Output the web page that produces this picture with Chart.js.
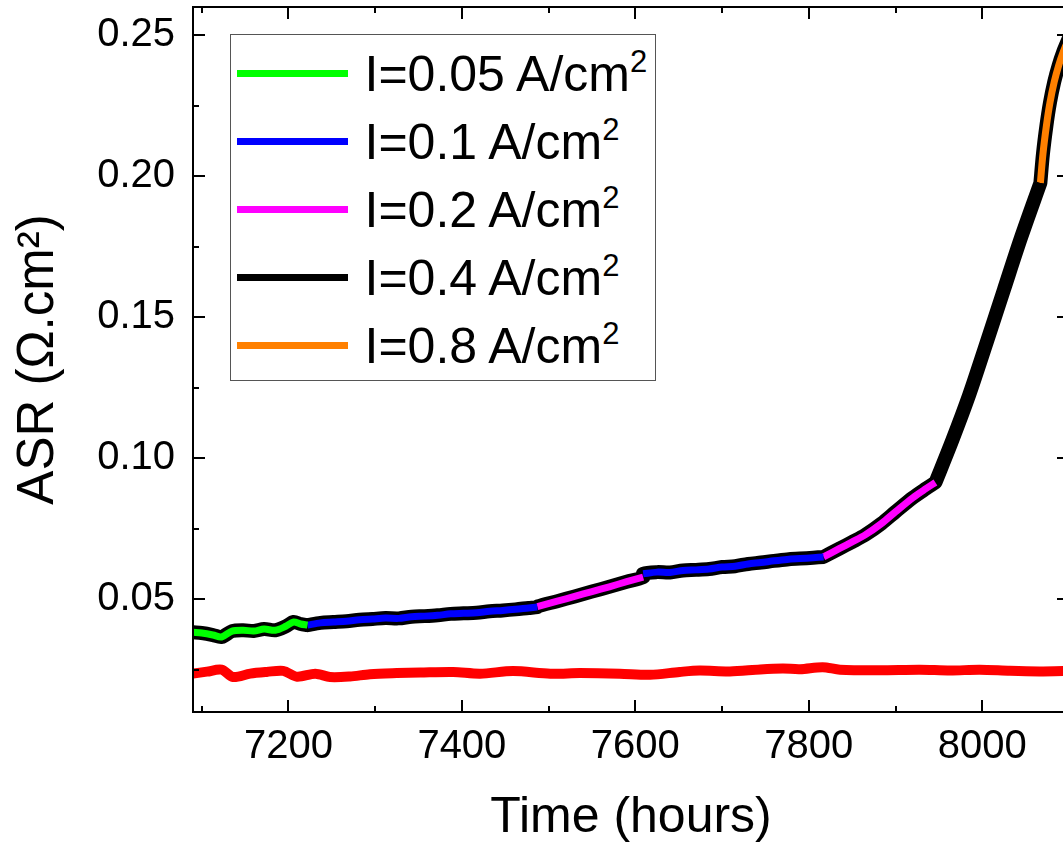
<!DOCTYPE html>
<html>
<head>
<meta charset="utf-8">
<script src="https://cdn.jsdelivr.net/npm/chart.js@4.4.0/dist/chart.umd.min.js"></script>
<style>
  html, body { margin: 0; padding: 0; background: #fff; overflow: hidden; }
  #wrap { position: relative; width: 1075px; height: 843px; }
  #chart { display: block; }
  #legend { position: absolute; left: 230px; top: 34px; width: 424px; height: 345px; border: 1.5px solid #555;
            background: #fff; font-family: "Liberation Sans", Arial, sans-serif; font-size: 50px; color: #000; }
  .row { position: absolute; left: 0; height: 48px; line-height: 48px; white-space: nowrap; }
  .swatch { position: absolute; left: 5.5px; top: 20.5px; width: 111px; height: 7px; }
  .txt { position: absolute; left: 133.5px; top: 0; }
  .txt sup { font-size: 31px; vertical-align: baseline; position: relative; top: -19px; }
</style>
</head>
<body>
<div id="wrap">
  <canvas id="chart" width="1075" height="843"></canvas>
  <div id="legend"></div>
</div>
<script>
// tick labels
const xTicks = [7200, 7400, 7600, 7800, 8000];
const yTicks = [0.05, 0.10, 0.15, 0.20, 0.25];

// I = 0.05 A/cm2
const greenHours = [7090, 7100, 7113, 7123, 7135, 7148, 7160, 7172, 7185, 7197, 7206, 7214, 7222];
const greenAsr   = [0.0383, 0.0380, 0.0373, 0.0366, 0.0387, 0.0390, 0.0387, 0.0394, 0.0390, 0.0404, 0.0419, 0.0412, 0.0408];

// I = 0.1 A/cm2 (two periods)
const blueHours1 = [7222, 7237, 7252, 7267, 7282, 7297, 7312, 7327, 7342, 7357, 7372, 7387, 7402, 7417, 7432, 7447, 7462, 7477, 7487];
const blueAsr1   = [0.0408, 0.0416, 0.0419, 0.0422, 0.0427, 0.0430, 0.0433, 0.0432, 0.0438, 0.0440, 0.0443, 0.0448, 0.0450, 0.0452, 0.0457, 0.0460, 0.0464, 0.0469, 0.0472];
const blueHours2 = [7609, 7625, 7640, 7655, 7670, 7685, 7700, 7715, 7730, 7745, 7760, 7775, 7790, 7805, 7817];
const blueAsr2   = [0.0590, 0.0596, 0.0595, 0.0602, 0.0604, 0.0607, 0.0614, 0.0617, 0.0625, 0.0630, 0.0636, 0.0641, 0.0644, 0.0647, 0.0650];

// I = 0.2 A/cm2 (two periods)
const magHours1 = [7487, 7510, 7530, 7550, 7570, 7590, 7609];
const magAsr1   = [0.0474, 0.0493, 0.0510, 0.0527, 0.0544, 0.0562, 0.0578];
const magHours2 = [7817, 7835, 7850, 7865, 7884, 7900, 7920, 7935, 7946];
const magAsr2   = [0.0650, 0.0679, 0.0703, 0.0728, 0.0769, 0.0810, 0.0860, 0.0892, 0.0914];

// I = 0.4 A/cm2
const blackHours = [7946, 7965, 7985, 8005, 8025, 8045, 8067];
const blackAsr   = [0.0914, 0.1060, 0.1225, 0.1410, 0.1598, 0.1785, 0.1976];

// I = 0.8 A/cm2
const orangeHours = [8067, 8070, 8074, 8078, 8083, 8088, 8093, 8100];
const orangeAsr   = [0.1976, 0.2080, 0.2180, 0.2260, 0.2335, 0.2392, 0.2438, 0.2490];

// red reference curve (no legend entry)
const redHours = [7090, 7106, 7123, 7136, 7156, 7175, 7194, 7210, 7231, 7248, 7271, 7294, 7325, 7352, 7390, 7421, 7459, 7502,
                  7536, 7582, 7617, 7651, 7674, 7709, 7744, 7770, 7790, 7816, 7836, 7882, 7928, 7963, 7997, 8032, 8066, 8093, 8100];
const redAsr   = [0.0236, 0.0243, 0.0250, 0.0224, 0.0236, 0.0242, 0.0246, 0.0225, 0.0236, 0.0224, 0.0226, 0.0234, 0.0238, 0.0240,
                  0.0242, 0.0236, 0.0245, 0.0236, 0.0238, 0.0236, 0.0232, 0.0242, 0.0247, 0.0244, 0.0251, 0.0254, 0.0252, 0.0259,
                  0.0250, 0.0248, 0.0250, 0.0247, 0.0250, 0.0246, 0.0244, 0.0245, 0.0245];

const legendLabels = ['I=0.05 A/cm', 'I=0.1 A/cm', 'I=0.2 A/cm', 'I=0.4 A/cm', 'I=0.8 A/cm'];
const legendColors = ['#00ff00', '#0000ff', '#ff00ff', '#000000', '#ff8000'];

const FONT = '"Liberation Sans", Arial, sans-serif';

const pts = (h, a) => h.map((t, i) => ({ x: t, y: a[i] }));

const segment = (h, a, color) => ({
  data: pts(h, a),
  borderColor: color,
  borderWidth: 7,
  tension: 0.3,
  pointRadius: 0,
  borderCapStyle: 'butt',
  borderJoinStyle: 'round',
  clip: 0
});

const outline = [].concat(
  pts(greenHours, greenAsr), pts(blueHours1, blueAsr1), pts(magHours1, magAsr1),
  pts(blueHours2, blueAsr2), pts(magHours2, magAsr2), pts(blackHours, blackAsr), pts(orangeHours, orangeAsr)
);

// chart area placed by hand, so drop the label overhang padding
const fixBox = (s, key, size) => {
  s[key] = size;
  s.paddingTop = 0; s.paddingBottom = 0; s.paddingLeft = 0; s.paddingRight = 0;
};

// inward ticks and frame on all four sides
const framePlugin = {
  id: 'frame',
  afterDatasetsDraw(chart) {
    const { ctx, chartArea: a, scales: { x, y } } = chart;
    ctx.save();
    ctx.strokeStyle = '#000';
    ctx.lineWidth = 2;
    ctx.strokeRect(a.left, a.top, a.right - a.left, a.bottom - a.top);
    ctx.beginPath();
    for (let v = 7100; v <= x.max; v += 100) {
      const px = Math.round(x.getPixelForValue(v));
      const len = v % 200 === 0 ? 12 : 6;
      ctx.moveTo(px, a.bottom); ctx.lineTo(px, a.bottom - len);
      ctx.moveTo(px, a.top); ctx.lineTo(px, a.top + len);
    }
    for (let k = 1; k * 0.025 <= y.max + 1e-9; k++) {
      const v = k * 0.025;
      if (v < y.min) continue;
      const py = Math.round(y.getPixelForValue(v));
      const len = k % 2 === 0 ? 12 : 6;
      ctx.moveTo(a.left, py); ctx.lineTo(a.left + len, py);
      ctx.moveTo(a.right, py); ctx.lineTo(a.right - len, py);
    }
    ctx.stroke();
    ctx.restore();
  }
};

new Chart(document.getElementById('chart'), {
  type: 'line',
  data: {
    datasets: [
      segment(greenHours, greenAsr, legendColors[0]),
      segment(blueHours1, blueAsr1, legendColors[1]),
      segment(blueHours2, blueAsr2, legendColors[1]),
      segment(magHours1, magAsr1, legendColors[2]),
      segment(magHours2, magAsr2, legendColors[2]),
      segment(blackHours, blackAsr, legendColors[3]),
      segment(orangeHours, orangeAsr, legendColors[4]),
      {
        data: outline,
        borderColor: '#000',
        borderWidth: 14,
        tension: 0.3,
        pointRadius: 0,
        borderJoinStyle: 'round',
        clip: 0
      },
      {
        data: pts(redHours, redAsr),
        borderColor: '#ff0000',
        borderWidth: 10,
        tension: 0.3,
        pointRadius: 0,
        borderJoinStyle: 'round',
        clip: 0
      }
    ]
  },
  options: {
    responsive: false,
    animation: false,
    devicePixelRatio: 1,
    layout: { padding: { top: 7, right: 6, left: 0, bottom: 0 } },
    plugins: { legend: { display: false }, tooltip: { enabled: false } },
    scales: {
      x: {
        type: 'linear',
        min: 7090,
        max: 8100,
        afterBuildTicks: s => { s.ticks = xTicks.map(v => ({ value: v })); },
        afterFit: s => fixBox(s, 'height', 131),
        grid: { display: false, drawTicks: false },
        border: { display: false },
        ticks: { color: '#000', padding: 11, maxRotation: 0, autoSkip: false, callback: v => String(v),
                 font: { family: FONT, size: 40 } },
        title: { display: true, text: 'Time (hours)', color: '#000', padding: { top: 0, bottom: 0 },
                 font: { family: FONT, size: 50, lineHeight: 1 } }
      },
      y: {
        type: 'linear',
        min: 0.01,
        max: 0.26,
        afterBuildTicks: s => { s.ticks = yTicks.map(v => ({ value: v })); },
        afterFit: s => fixBox(s, 'width', 193),
        grid: { display: false, drawTicks: false },
        border: { display: false },
        ticks: { color: '#000', padding: 18, callback: v => v.toFixed(2), font: { family: FONT, size: 40 } },
        title: { display: true, text: 'ASR (\u03A9.cm\u00B2)', color: '#000', padding: { top: 13, bottom: 0 },
                 font: { family: FONT, size: 51, lineHeight: 1 } }
      }
    }
  },
  plugins: [framePlugin]
});

// legend box
const legend = document.getElementById('legend');
const rowCenters = [74, 142, 210, 278, 346];
legendLabels.forEach((label, i) => {
  const row = document.createElement('div');
  row.className = 'row';
  row.style.top = (rowCenters[i] - 34 - 1.5 - 24) + 'px';
  const sw = document.createElement('div');
  sw.className = 'swatch';
  sw.style.background = legendColors[i];
  const txt = document.createElement('span');
  txt.className = 'txt';
  txt.innerHTML = label + '<sup>2</sup>';
  row.appendChild(sw);
  row.appendChild(txt);
  legend.appendChild(row);
});
</script>
</body>
</html>
